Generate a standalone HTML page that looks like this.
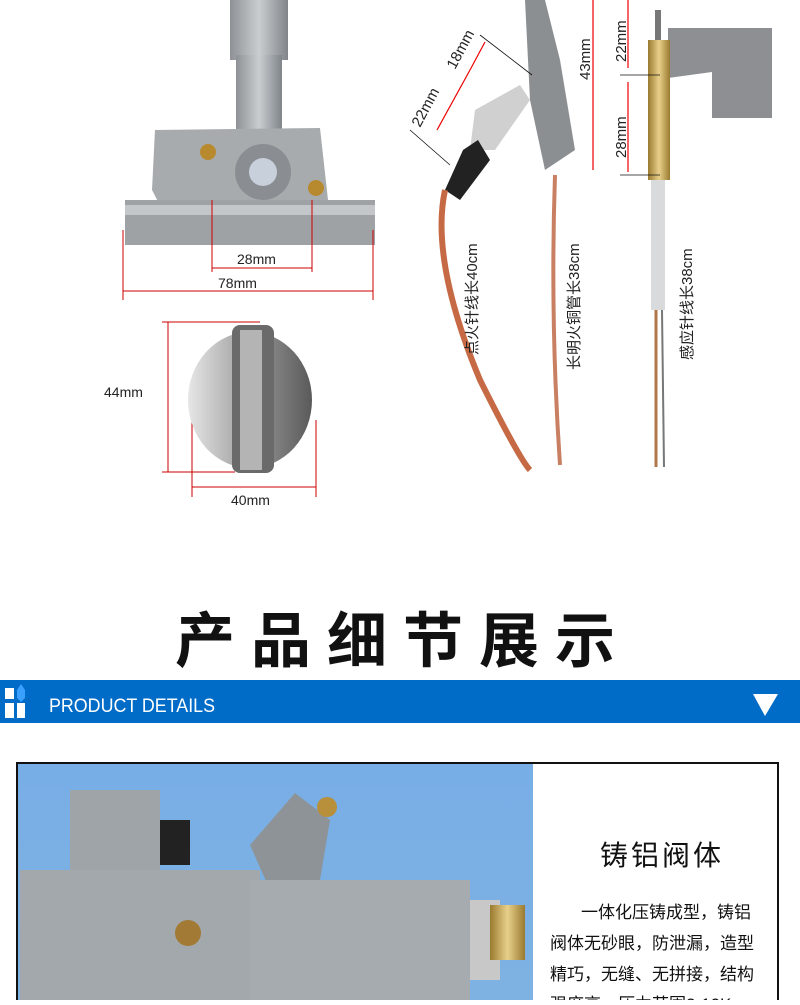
<!DOCTYPE html>
<html><head><meta charset="utf-8"><style>
body{margin:0;width:800px;height:1000px;overflow:hidden;background:#fff;font-family:"Liberation Sans","Noto Sans CJK SC",sans-serif}
svg text{font-family:"Liberation Sans","Noto Sans CJK SC",sans-serif}
</style></head><body>
<svg width="800" height="1000" viewBox="0 0 800 1000" xmlns="http://www.w3.org/2000/svg">
<defs>
<linearGradient id="metal" x1="0" x2="1"><stop offset="0" stop-color="#8e9296"/><stop offset="0.5" stop-color="#c9cdd0"/><stop offset="1" stop-color="#80858a"/></linearGradient>
<linearGradient id="knob" x1="0" x2="1"><stop offset="0" stop-color="#e6e6e6"/><stop offset="0.5" stop-color="#9a9a9a"/><stop offset="1" stop-color="#5a5a5a"/></linearGradient>
<linearGradient id="sky" x1="0" y1="0" x2="0" y2="1"><stop offset="0" stop-color="#78aee6"/><stop offset="1" stop-color="#7eb2e2"/></linearGradient>
<linearGradient id="brass" x1="0" x2="1"><stop offset="0" stop-color="#9a7a30"/><stop offset="0.5" stop-color="#e8d08a"/><stop offset="1" stop-color="#9a7a30"/></linearGradient>
</defs>
<rect x="230" y="0" width="58" height="60" fill="url(#metal)"/>
<rect x="236" y="55" width="46" height="80" fill="url(#metal)"/>
<path d="M155 130 L320 128 L328 200 L300 215 L165 215 L152 190 Z" fill="#a7abae"/>
<rect x="125" y="200" width="250" height="45" fill="#9ea2a5"/>
<rect x="125" y="205" width="250" height="10" fill="#c4c7ca"/>
<circle cx="263" cy="172" r="28" fill="#8a8e92"/>
<circle cx="263" cy="172" r="14" fill="#c8d0dc"/>
<circle cx="208" cy="152" r="8" fill="#b88a30"/>
<circle cx="316" cy="188" r="8" fill="#b88a30"/>
<g stroke="#c00" stroke-width="1" fill="none">
<line x1="212" y1="268" x2="312" y2="268"/><line x1="212" y1="200" x2="212" y2="272"/><line x1="312" y1="200" x2="312" y2="272"/>
<line x1="123" y1="291" x2="373" y2="291"/><line x1="123" y1="230" x2="123" y2="300"/><line x1="373" y1="230" x2="373" y2="300"/>
<line x1="168" y1="322" x2="168" y2="472"/><line x1="162" y1="322" x2="260" y2="322"/><line x1="162" y1="472" x2="235" y2="472"/>
<line x1="192" y1="487" x2="316" y2="487"/><line x1="192" y1="420" x2="192" y2="497"/><line x1="316" y1="420" x2="316" y2="497"/>
</g>
<text x="237" y="264" font-size="14" fill="#222">28mm</text>
<text x="218" y="288" font-size="14" fill="#222">78mm</text>
<text x="104" y="397" font-size="14" fill="#222">44mm</text>
<text x="231" y="505" font-size="14" fill="#222">40mm</text>
<ellipse cx="250" cy="400" rx="62" ry="68" fill="url(#knob)"/>
<rect x="232" y="325" width="42" height="148" rx="8" fill="#6a6a6a"/>
<rect x="240" y="330" width="22" height="140" fill="#b4b4b4"/>
<path d="M525 0 L545 0 L560 60 L575 150 L545 170 L530 100 Z" fill="#8c8f92"/>
<path d="M475 110 L520 85 L530 100 L495 150 L470 150 Z" fill="#d0d0d0"/>
<path d="M463 150 L478 140 L490 160 L460 200 L445 190 Z" fill="#222"/>
<path d="M445 190 Q430 260 480 380 Q520 460 530 470" stroke="#c66a45" stroke-width="6" fill="none"/>
<path d="M555 175 Q550 320 560 465" stroke="#c98062" stroke-width="4" fill="none"/>
<rect x="655" y="10" width="6" height="30" fill="#777"/>
<path d="M668 28 L772 28 L772 118 L712 118 L712 72 L668 78 Z" fill="#8d8f92"/>
<rect x="648" y="40" width="22" height="140" fill="url(#brass)"/>
<rect x="651" y="180" width="14" height="130" fill="#d8dadc"/>
<line x1="656" y1="310" x2="656" y2="467" stroke="#b07848" stroke-width="3"/>
<line x1="662" y1="310" x2="664" y2="467" stroke="#777" stroke-width="2"/>
<g stroke="#e00" stroke-width="1.2">
<line x1="593" y1="0" x2="593" y2="170"/><line x1="628" y1="0" x2="628" y2="68"/><line x1="628" y1="82" x2="628" y2="172"/>
<line x1="437" y1="130" x2="470" y2="70"/><line x1="470" y1="70" x2="485" y2="42"/>
</g>
<g stroke="#111" stroke-width="0.8">
<line x1="620" y1="175" x2="660" y2="175"/><line x1="620" y1="75" x2="660" y2="75"/>
<line x1="410" y1="130" x2="450" y2="165"/><line x1="480" y1="35" x2="532" y2="75"/>
</g>
<text transform="translate(590,80) rotate(-90)" font-size="15" fill="#222">43mm</text>
<text transform="translate(626,62) rotate(-90)" font-size="15" fill="#222">22mm</text>
<text transform="translate(626,158) rotate(-90)" font-size="15" fill="#222">28mm</text>
<text transform="translate(420,128) rotate(-62)" font-size="15" fill="#222">22mm</text>
<text transform="translate(455,70) rotate(-62)" font-size="15" fill="#222">18mm</text>
<text transform="translate(477,355) rotate(-90)" font-size="15" fill="#222">点火针线长40cm</text>
<text transform="translate(579,370) rotate(-90)" font-size="15" fill="#222">长明火铜管长38cm</text>
<text transform="translate(692,360) rotate(-90)" font-size="15" fill="#222">感应针线长38cm</text>
<text x="403" y="662" font-size="60" font-weight="bold" text-anchor="middle" letter-spacing="16" fill="#111">产品细节展示</text>
<rect x="0" y="680" width="800" height="43" fill="#016cc7"/>
<rect x="5" y="688" width="9" height="11" fill="#fff"/>
<rect x="5" y="703" width="9" height="15" fill="#fff"/>
<rect x="17" y="703" width="8" height="15" fill="#fff"/>
<path d="M21 684 L25 690 L25 698 L21 702 L17 698 L17 690 Z" fill="#3aa0ff"/>
<text x="49" y="712" font-size="19" fill="#fff" textLength="166" lengthAdjust="spacingAndGlyphs">PRODUCT DETAILS</text>
<path d="M753 694 L778 694 L765 716 Z" fill="#fff"/>
<rect x="17" y="763" width="761" height="250" fill="#fff" stroke="#111" stroke-width="2"/>
<rect x="18" y="764" width="515" height="240" fill="url(#sky)"/>
<rect x="70" y="790" width="90" height="120" fill="#9fa4a8"/>
<rect x="20" y="870" width="240" height="140" fill="#a3a8ac"/>
<path d="M250 845 L295 793 L330 820 L320 880 L270 890 Z" fill="#8e9397"/>
<rect x="250" y="880" width="220" height="120" fill="#a6abaf"/>
<rect x="470" y="900" width="30" height="80" fill="#c8c8c8"/>
<rect x="490" y="905" width="35" height="55" fill="url(#brass)"/>
<circle cx="188" cy="933" r="13" fill="#a27a35"/>
<circle cx="327" cy="807" r="10" fill="#b8903c"/>
<rect x="160" y="820" width="30" height="45" fill="#222"/>
<text x="600" y="865" font-size="28" fill="#111" letter-spacing="3">铸铝阀体</text>
<text x="581" y="918" font-size="17" fill="#111">一体化压铸成型，铸铝</text>
<text x="550" y="949" font-size="17" fill="#111">阀体无砂眼，防泄漏，造型</text>
<text x="550" y="980" font-size="17" fill="#111">精巧，无缝、无拼接，结构</text>
<text x="550" y="1010" font-size="17" fill="#111">强度高，压力范围2-10K</text>
</svg>
</body></html>
